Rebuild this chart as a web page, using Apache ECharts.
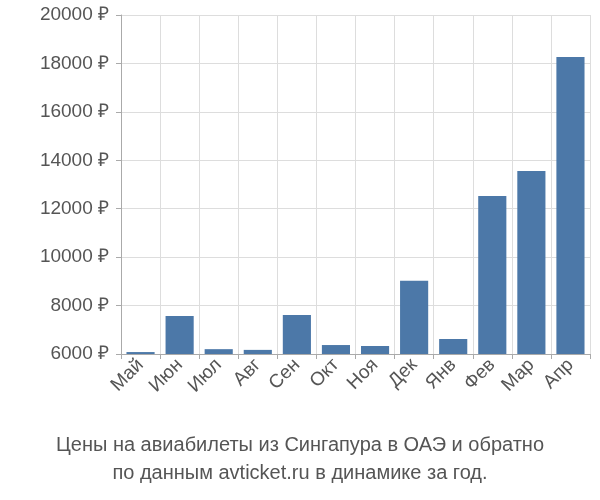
<!DOCTYPE html>
<html><head><meta charset="utf-8">
<script src="https://cdn.jsdelivr.net/npm/echarts@6/dist/echarts.min.js"></script>
<style>html,body{margin:0;padding:0;background:#fff}#c{width:600px;height:500px}</style>
</head><body><div id="c"></div>
<script>
const categories = ["Май","Июн","Июл","Авг","Сен","Окт","Ноя","Дек","Янв","Фев","Мар","Апр"];
const prices = [6080,7570,6200,6170,7610,6370,6330,9020,6620,12530,13560,18270];
const titleLines = ["Цены на авиабилеты из Сингапура в ОАЭ и обратно","по данным avticket.ru в динамике за год."];
const chart = echarts.init(document.getElementById('c'));
chart.setOption({
  animation:false,
  title:{text:titleLines.join('\n'),left:'center',bottom:8,textStyle:{fontFamily:'Liberation Sans, Arial',fontSize:20,fontWeight:'normal',color:'#555',lineHeight:28}},
  grid:{left:121,right:10,top:15,bottom:146},
  xAxis:{type:'category',data:categories,
    axisLine:{lineStyle:{color:'#aaa'}},axisTick:{show:true,alignWithLabel:false,lineStyle:{color:'#aaa'}},
    splitLine:{show:true,lineStyle:{color:'#ddd'}},
    axisLabel:{rotate:45,fontSize:19,color:'#555',fontFamily:'Liberation Sans, Arial',margin:8}},
  yAxis:{type:'value',min:6000,max:20000,interval:2000,
    axisLine:{show:true,lineStyle:{color:'#aaa'}},axisTick:{show:true,lineStyle:{color:'#aaa'}},
    splitLine:{lineStyle:{color:'#ddd'}},
    axisLabel:{formatter:v=>v+' ₽',fontSize:19,color:'#555',fontFamily:'Liberation Sans, Arial',margin:12}},
  series:[{type:'bar',data:prices,barWidth:'72%',itemStyle:{color:'#4c78a8'}}]
});
</script></body></html>
